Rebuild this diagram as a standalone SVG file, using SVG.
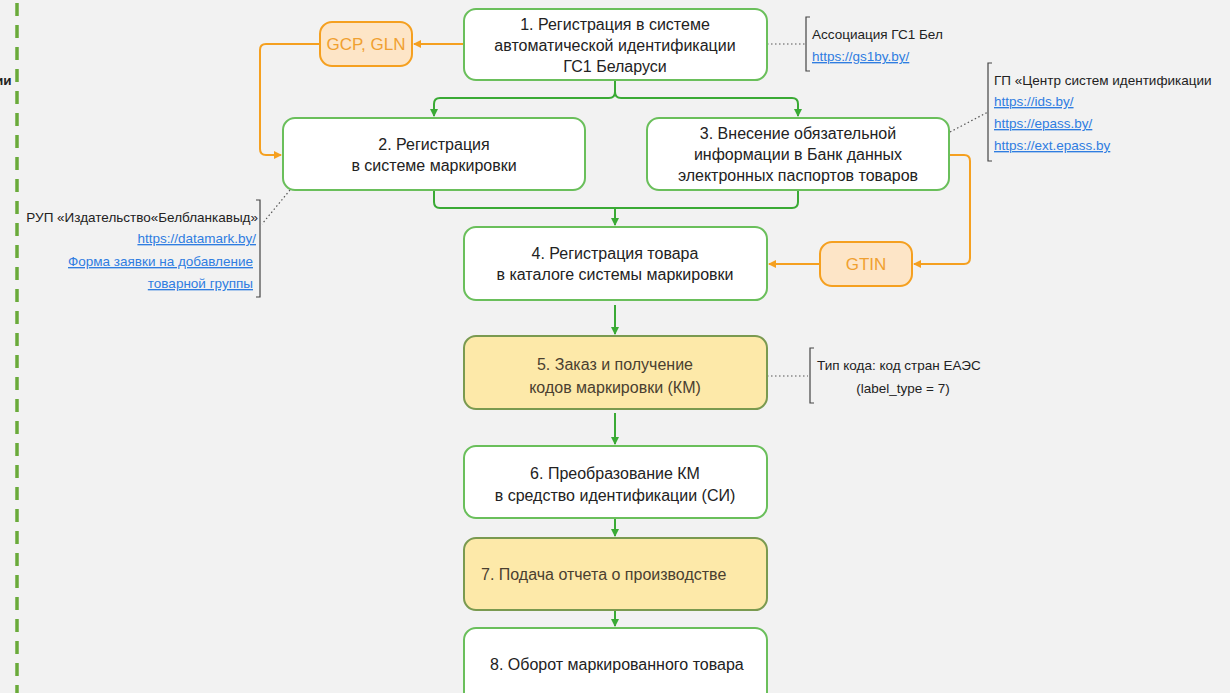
<svg xmlns="http://www.w3.org/2000/svg" width="1230" height="693" viewBox="0 0 1230 693">
<defs>
<marker id="ag" markerWidth="10" markerHeight="10" refX="8" refY="5" orient="auto" markerUnits="userSpaceOnUse"><path d="M1,1 L9,5 L1,9 Z" fill="#3aaa35"/></marker>
<marker id="ao" markerWidth="10" markerHeight="10" refX="8" refY="5" orient="auto" markerUnits="userSpaceOnUse"><path d="M1,1 L9,5 L1,9 Z" fill="#f5a020"/></marker>
<style>
.n{fill:#fff;stroke:#6abf5b;stroke-width:2}
.y{fill:#fde9a9;stroke:#7a9a50;stroke-width:2}
.o{fill:#fde5c7;stroke:#f5a020;stroke-width:2}
.t{font-family:"Liberation Sans",Arial,sans-serif;font-size:16px;fill:#222;text-anchor:middle}
.ty{font-family:"Liberation Sans",Arial,sans-serif;font-size:16px;fill:#4a4030;text-anchor:middle}
.to{font-family:"Liberation Sans",Arial,sans-serif;font-size:17px;fill:#f0a030;text-anchor:middle}
.a{font-family:"Liberation Sans",Arial,sans-serif;font-size:13.5px;fill:#222}
.l{font-family:"Liberation Sans",Arial,sans-serif;font-size:13.5px;fill:#2f7de1;text-decoration:underline}
.g{fill:none;stroke:#3aaa35;stroke-width:2}
.or{fill:none;stroke:#f5a020;stroke-width:2}
.d{fill:none;stroke:#555;stroke-width:1.2;stroke-dasharray:1.5 2.5}
.b{fill:none;stroke:#444;stroke-width:1.2}
</style>
</defs>
<rect x="0" y="0" width="1230" height="693" fill="#f2f2f2"/>
<line x1="17" y1="3" x2="17" y2="693" stroke="#6aaa3a" stroke-width="3.5" stroke-dasharray="13 9"/>
<text x="-5" y="85" class="a" style="font-weight:bold">ии</text>

<g id="connectors">
<path class="or" d="M464,44 H414" marker-end="url(#ao)"/>
<path class="or" d="M320,44 H266 Q260,44 260,50 V149 Q260,155 266,155 H281" marker-end="url(#ao)"/>
<path class="g" d="M615,80 V92 Q615,98 609,98 H440 Q434,98 434,104 V116" marker-end="url(#ag)"/>
<path class="g" d="M615,80 V92 Q615,98 621,98 H792 Q798,98 798,104 V116" marker-end="url(#ag)"/>
<path class="g" d="M434,190 V202 Q434,208 440,208 H792 Q798,208 798,202 V190"/>
<path class="g" d="M615,208 V225" marker-end="url(#ag)"/>
<path class="or" d="M949,155 H964 Q970,155 970,161 V258 Q970,264 964,264 H914" marker-end="url(#ao)"/>
<path class="or" d="M820,264 H769" marker-end="url(#ao)"/>
<path class="g" d="M615,305 V334" marker-end="url(#ag)"/>
<path class="g" d="M615,413 V444" marker-end="url(#ag)"/>
<path class="g" d="M615,518 V536" marker-end="url(#ag)"/>
<path class="g" d="M615,610 V626" marker-end="url(#ag)"/>
<path class="d" d="M767,44 H805"/>
<path class="d" d="M950,132 L988,112"/>
<path class="d" d="M290,190 L262,224"/>
<path class="d" d="M767,376 H808"/>
</g>

<g id="node1"><rect class="n" x="464" y="9" width="303" height="71" rx="12"/>
<text class="t" x="615" y="30">1. Регистрация в системе</text>
<text class="t" x="615" y="51">автоматической идентификации</text>
<text class="t" x="615" y="72">ГС1 Беларуси</text></g>

<g id="gcp"><rect class="o" x="320" y="22" width="92" height="44" rx="12"/>
<text class="to" x="366" y="50">GCP, GLN</text></g>

<g id="node2"><rect class="n" x="283" y="118" width="302" height="72" rx="12"/>
<text class="t" x="434" y="150">2. Регистрация</text>
<text class="t" x="434" y="171">в системе маркировки</text></g>

<g id="node3"><rect class="n" x="647" y="118" width="302" height="72" rx="12"/>
<text class="t" x="798" y="139">3. Внесение обязательной</text>
<text class="t" x="798" y="160">информации в Банк данных</text>
<text class="t" x="798" y="181">электронных паспортов товаров</text></g>

<g id="node4"><rect class="n" x="464" y="227" width="303" height="73" rx="12"/>
<text class="t" x="615" y="259">4. Регистрация товара</text>
<text class="t" x="615" y="280">в каталоге системы маркировки</text></g>

<g id="gtin"><rect class="o" x="820" y="242" width="92" height="44" rx="12"/>
<text class="to" x="866" y="270">GTIN</text></g>

<g id="node5"><rect class="y" x="464" y="336" width="303" height="73" rx="12"/>
<text class="ty" x="615" y="370">5. Заказ и получение</text>
<text class="ty" x="615" y="393">кодов маркировки (КМ)</text></g>

<g id="node6"><rect class="n" x="464" y="446" width="303" height="72" rx="12"/>
<text class="t" x="615" y="479">6. Преобразование КМ</text>
<text class="t" x="615" y="501">в средство идентификации (СИ)</text></g>

<g id="node7"><rect class="y" x="464" y="538" width="303" height="72" rx="12"/>
<text class="ty" x="481" y="580" style="text-anchor:start">7. Подача отчета о производстве</text></g>

<g id="node8"><rect class="n" x="464" y="628" width="303" height="80" rx="12"/>
<text class="t" x="490" y="670" style="text-anchor:start">8. Оборот маркированного товара</text></g>

<g id="note-gs1">
<path class="b" d="M810,17 H806 V71 H810"/>
<text class="a" x="812" y="39">Ассоциация ГС1 Бел</text>
<text class="l" x="812" y="61">https://gs1by.by/</text></g>

<g id="note-ids">
<path class="b" d="M992,63 H988 V161 H992"/>
<text class="a" x="994" y="85">ГП «Центр систем идентификации</text>
<text class="l" x="994" y="106">https://ids.by/</text>
<text class="l" x="994" y="128">https://epass.by/</text>
<text class="l" x="994" y="150">https://ext.epass.by</text></g>

<g id="note-rup">
<path class="b" d="M256,200 H260 V297 H256"/>
<text class="a" x="258" y="222" style="text-anchor:end">РУП «Издательство«Белбланкавыд»</text>
<text class="l" x="256" y="243" style="text-anchor:end">https://datamark.by/</text>
<text class="l" x="253" y="266" style="text-anchor:end">Форма заявки на добавление</text>
<text class="l" x="253" y="288" style="text-anchor:end">товарной группы</text></g>

<g id="note-km">
<path class="b" d="M814,348 H810 V403 H814"/>
<text class="a" x="817" y="370">Тип кода: код стран ЕАЭС</text>
<text class="a" x="903" y="393" style="text-anchor:middle">(label_type = 7)</text></g>
</svg>
